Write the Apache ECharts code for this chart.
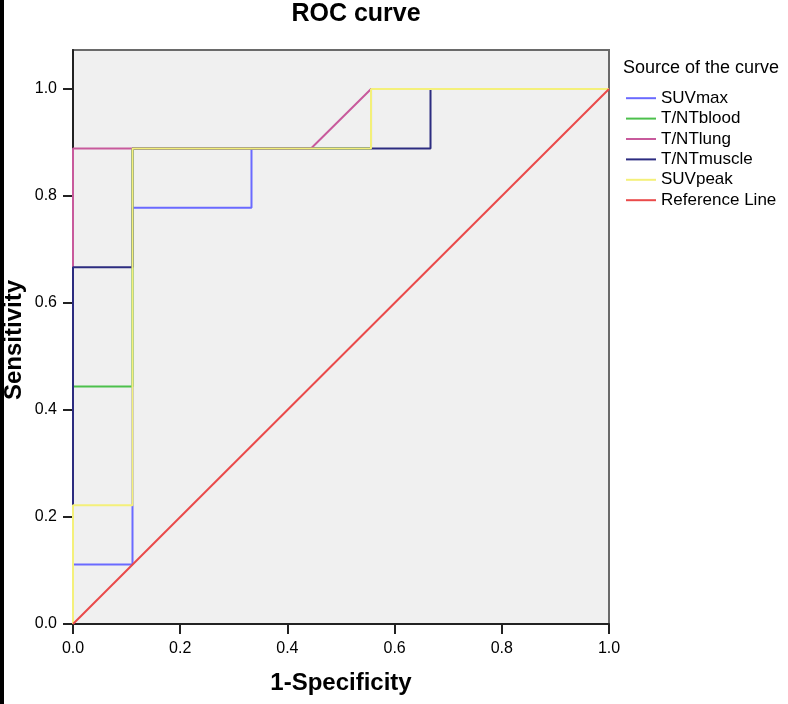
<!DOCTYPE html>
<html>
<head>
<meta charset="utf-8">
<script src="https://cdn.jsdelivr.net/npm/echarts@6/dist/echarts.min.js"></script>
<style>
html,body{margin:0;padding:0;background:#fff;}
#chart{width:788px;height:704px;}
</style>
</head>
<body>
<div id="chart"></div>
<script>
// ---- data ----
var seriesNames = ['SUVmax', 'T/NTblood', 'T/NTlung', 'T/NTmuscle', 'SUVpeak', 'Reference Line'];
var suvmaxX = [0, 0, 0.111, 0.111, 0.333, 0.333, 0.556, 0.556, 1.0];
var suvmaxY = [0, 0.111, 0.111, 0.778, 0.778, 0.889, 0.889, 1.0, 1.0];
var bloodX = [0, 0, 0.111, 0.111, 0.556, 0.556, 1.0];
var bloodY = [0, 0.444, 0.444, 0.889, 0.889, 1.0, 1.0];
var lungX = [0, 0, 0.111, 0.444, 0.556, 1.0];
var lungY = [0, 0.889, 0.889, 0.889, 1.0, 1.0];
var muscleX = [0, 0, 0.111, 0.111, 0.667, 0.667, 1.0];
var muscleY = [0, 0.667, 0.667, 0.889, 0.889, 1.0, 1.0];
var peakX = [0, 0, 0.111, 0.111, 0.556, 0.556, 1.0];
var peakY = [0, 0.222, 0.222, 0.889, 0.889, 1.0, 1.0];
var refX = [0, 1.0];
var refY = [0, 1.0];
var tickValues = [0, 0.2, 0.4, 0.6, 0.8, 1.0];

var colors = ['#6a6aff', '#4cc04c', '#c85a9c', '#2c2c80', '#f4f07a', '#ea4a4a'];
function pairs(xs, ys) { return xs.map(function (x, i) { return [x, ys[i]]; }); }
var allData = [pairs(suvmaxX, suvmaxY), pairs(bloodX, bloodY), pairs(lungX, lungY),
               pairs(muscleX, muscleY), pairs(peakX, peakY), pairs(refX, refY)];

var chart = echarts.init(document.getElementById('chart'), null, {renderer: 'canvas'});
var font = '"Liberation Sans", Arial, sans-serif';
var option = {
  animation: false,
  backgroundColor: '#ffffff',
  grid: {
    left: 73, right: 179, top: 50, bottom: 80,
    show: true, backgroundColor: '#f0f0f0', borderColor: '#6a6a6a', borderWidth: 2
  },
  xAxis: {
    type: 'value', min: 0, max: 1, interval: 0.2,
    axisLine: {show: true, onZero: false, lineStyle: {color: '#222', width: 2}},
    axisTick: {show: true, length: 10, lineStyle: {color: '#222', width: 2}},
    splitLine: {show: false},
    axisLabel: {margin: 17, fontFamily: font, fontSize: 16, color: '#000',
      formatter: function (v) { return v.toFixed(1); }}
  },
  yAxis: {
    type: 'value', min: 0, max: 1.073,
    axisLine: {show: true, onZero: false, lineStyle: {color: '#222', width: 2}},
    axisTick: {show: true, length: 10, customValues: tickValues, lineStyle: {color: '#222', width: 2}},
    splitLine: {show: false},
    axisLabel: {margin: 16, fontFamily: font, fontSize: 16, color: '#000', customValues: tickValues,
      formatter: function (v) { return v.toFixed(1); }}
  },
  legend: {
    orient: 'vertical', left: 626, top: 88, padding: 0, itemGap: 0,
    icon: 'rect', itemWidth: 30, itemHeight: 2,
    textStyle: {fontFamily: font, fontSize: 17, color: '#000', lineHeight: 20.4},
    data: seriesNames
  },
  series: seriesNames.map(function (n, i) {
    return {
      name: n, type: 'line', data: allData[i], symbol: 'none',
      lineStyle: {color: colors[i], width: 2}, itemStyle: {color: colors[i]},
      z: 2 + i
    };
  }),
  graphic: [
    {type: 'rect', left: 0, top: 0, shape: {width: 4, height: 704}, style: {fill: '#000'}},
    {type: 'text', x: 356, y: 14, style: {text: 'ROC curve', font: 'bold 25px "Liberation Sans", Arial, sans-serif',
      fill: '#000', align: 'center', verticalAlign: 'middle'}},
    {type: 'text', x: 341, y: 683, style: {text: '1-Specificity', font: 'bold 24px "Liberation Sans", Arial, sans-serif',
      fill: '#000', align: 'center', verticalAlign: 'middle'}},
    {type: 'text', x: 14, y: 340, rotation: Math.PI / 2, style: {text: 'Sensitivity',
      font: 'bold 24px "Liberation Sans", Arial, sans-serif', fill: '#000', align: 'center', verticalAlign: 'middle'}},
    {type: 'text', x: 623, y: 68, style: {text: 'Source of the curve', font: '18px "Liberation Sans", Arial, sans-serif',
      fill: '#000', align: 'left', verticalAlign: 'middle'}}
  ]
};
chart.setOption(option);
</script>
</body>
</html>
